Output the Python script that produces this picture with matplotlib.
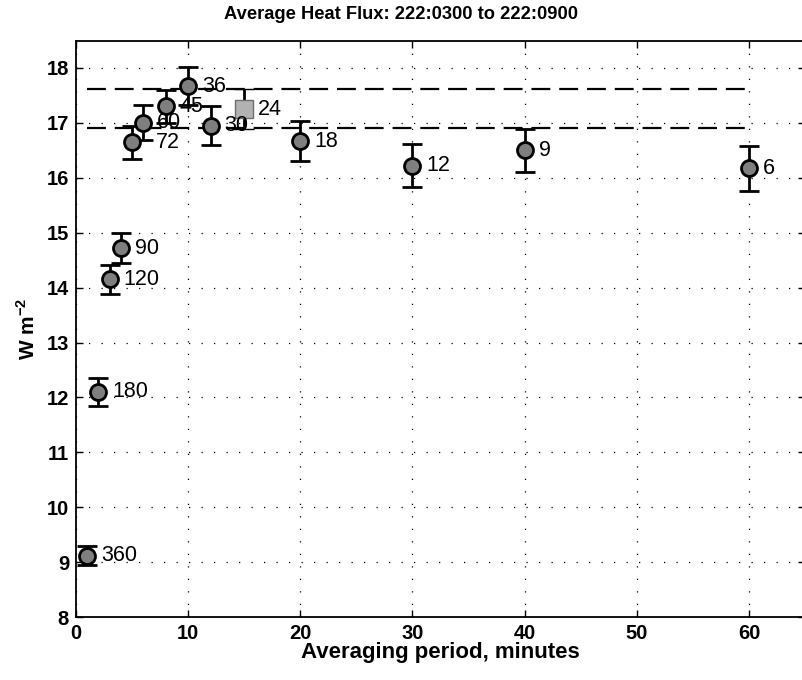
import numpy as np
import matplotlib
matplotlib.use('Agg')
import matplotlib.pyplot as plt

plt.rcParams['font.family'] = ['Liberation Sans', 'DejaVu Sans']
plt.rcParams['mathtext.fontset'] = 'custom'
plt.rcParams['mathtext.rm'] = 'Liberation Sans'
plt.rcParams['mathtext.bf'] = 'Liberation Sans:bold'

# averaging period (minutes), mean flux, error, and number of segments
period = [1, 2, 3, 4, 5, 6, 8, 10, 12, 20, 30, 40, 60]
flux = [9.12, 12.1, 14.15, 14.72, 16.65, 17.0, 17.3, 17.67, 16.95, 16.67, 16.22, 16.5, 16.17]
err = [0.18, 0.25, 0.27, 0.28, 0.3, 0.32, 0.3, 0.35, 0.35, 0.36, 0.39, 0.39, 0.41]
nseg = ['360', '180', '120', '90', '72', '60', '45', '36', '30', '18', '12', '9', '6']

# the special (square) point
sq_period = 15
sq_flux = 17.25
sq_err = 0.37
sq_label = '24'

# dashed reference band
band = [17.61, 16.91]
band_x = [1, 60]

fig = plt.figure(figsize=(8.02, 6.8), dpi=100)
ax = fig.add_axes([0.0948, 0.0926, 0.909, 0.8478])

for yb in band:
    ax.plot(band_x, [yb, yb], color='black', lw=1.6, dashes=(8.5, 4), zorder=2)

ax.errorbar(period, flux, yerr=err, fmt='o', color='black', ecolor='black',
            elinewidth=2, capsize=7, capthick=2, markersize=11.5,
            markerfacecolor='#7f7f7f', markeredgecolor='black', markeredgewidth=2,
            zorder=3)
ax.errorbar([sq_period], [sq_flux], yerr=[sq_err], fmt='s', ecolor='black',
            elinewidth=2, capsize=7, capthick=2, markersize=12.5,
            markerfacecolor='#b2b2b2', markeredgecolor='#6e6e6e', markeredgewidth=1.0,
            zorder=3)

for x, y, lab in zip(period, flux, nseg):
    dx = 17 if lab == '72' else 10
    ax.annotate(lab, (x, y), xytext=(dx, 0), textcoords='offset points',
                ha='left', va='center', fontsize=15.5, zorder=4)
ax.annotate(sq_label, (sq_period, sq_flux), xytext=(10, 0), textcoords='offset points',
            ha='left', va='center', fontsize=15.5, zorder=4)

ax.set_xlim(0, 65)
ax.set_ylim(8, 18.5)
ax.set_xticks(np.arange(0, 61, 10))
ax.set_yticks(np.arange(8, 19, 1))
ax.grid(True, color='black', linestyle=(0, (1, 9)), linewidth=0.9)
ax.tick_params(direction='in', top=True, right=True, length=5, width=1,
               labelsize=14.5, pad=5)
for lab in ax.get_xticklabels() + ax.get_yticklabels():
    lab.set_fontweight('bold')
for sp in ax.spines.values():
    sp.set_linewidth(1.3)

ax.set_xlabel('Averaging period, minutes', fontsize=16, fontweight='bold', labelpad=-1)
ax.set_ylabel(r'W m$^{\mathbf{-2}}$', fontsize=15, fontweight='bold', labelpad=6)
fig.text(0.5, 0.978, 'Average Heat Flux: 222:0300 to 222:0900', ha='center', va='center',
         fontsize=13.2, fontweight='bold')

fig.savefig('out.png', dpi=100)
